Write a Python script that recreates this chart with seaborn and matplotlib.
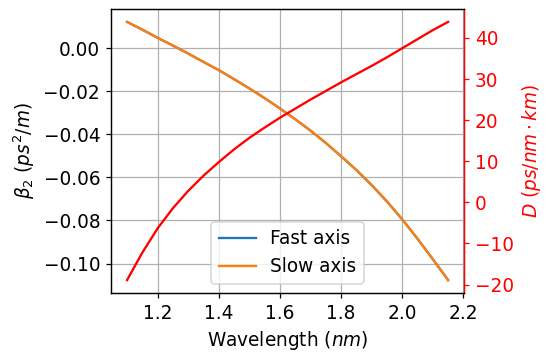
import matplotlib
matplotlib.use("Agg")
import matplotlib.pyplot as plt
import seaborn as sns
import pandas as pd

# values
wavelength = [1.10, 1.15, 1.20, 1.25, 1.30, 1.35, 1.40, 1.45, 1.50, 1.55, 1.60,
              1.65, 1.70, 1.75, 1.80, 1.85, 1.90, 1.95, 2.00, 2.05, 2.10, 2.15]
beta2_fast = [0.0122, 0.0086, 0.0048, 0.0012, -0.0025, -0.0064, -0.0102, -0.0144,
              -0.0187, -0.0232, -0.0280, -0.0330, -0.0383, -0.0440, -0.0502, -0.0566,
              -0.0636, -0.0712, -0.0795, -0.0885, -0.0980, -0.1077]
beta2_slow = list(beta2_fast)
dispersion = [-18.9, -12.2, -6.3, -1.4, 2.8, 6.5, 9.8, 12.9, 15.7, 18.2, 20.6,
              22.8, 25.0, 27.1, 29.2, 31.2, 33.2, 35.3, 37.5, 39.7, 41.9, 43.9]

df = pd.DataFrame({"wl": wavelength, "fast": beta2_fast,
                   "slow": beta2_slow, "D": dispersion})

DPI = 111
fig, ax = plt.subplots(figsize=(548 / DPI, 353 / DPI), dpi=DPI)
fig.subplots_adjust(left=0.2026, right=0.847, top=0.9745, bottom=0.170)

sns.lineplot(data=df, x="wl", y="fast", ax=ax, color="C0", label="Fast axis")
sns.lineplot(data=df, x="wl", y="slow", ax=ax, color="C1", label="Slow axis")
ax.grid(True)
ax.set_xticks([1.2, 1.4, 1.6, 1.8, 2.0, 2.2])
ax.set_xlabel("Wavelength $(nm)$", fontsize=12)
ax.set_ylabel(r"$\beta_2\ (ps^2/m)$", fontsize=12)
ax.tick_params(labelsize=12)
ax.legend(loc="lower center", fontsize=12)

ax2 = ax.twinx()
sns.lineplot(data=df, x="wl", y="D", ax=ax2, color="red")
ax2.set_ylabel(r"$D\ (ps/nm \cdot km)$", color="red", fontsize=12)
ax2.tick_params(axis="y", colors="red", labelsize=12)
ax2.spines["right"].set_color("red")

fig.savefig("out.png", dpi=DPI)
